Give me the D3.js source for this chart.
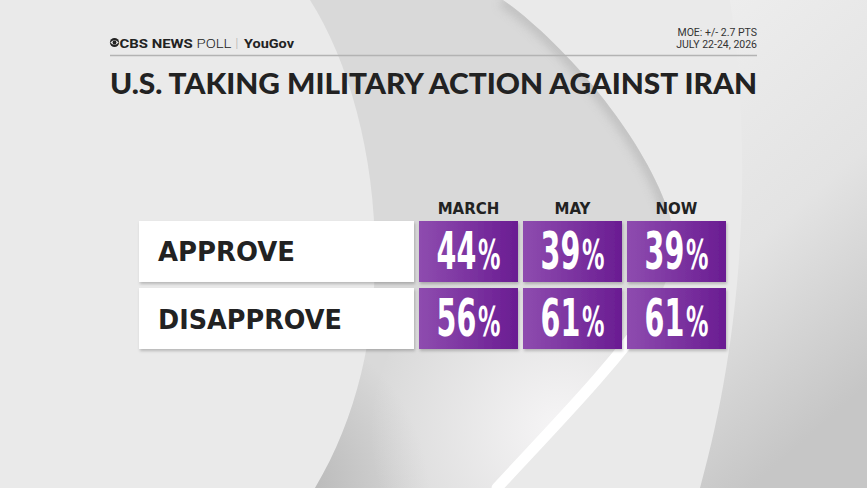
<!DOCTYPE html>
<html>
<head>
<meta charset="utf-8">
<script src="https://cdn.jsdelivr.net/npm/d3@7"></script>
<style>
  html, body { margin: 0; padding: 0; background: #e9e8e9; overflow: hidden; }
  svg { display: block; }
</style>
</head>
<body>
<svg id="chart"></svg>
<script>
// poll data
const periods = ['MARCH', 'MAY', 'NOW'];
const responses = ['APPROVE', 'DISAPPROVE'];
const approve = [44, 39, 39];
const disapprove = [56, 61, 61];
const title = 'U.S. TAKING MILITARY ACTION AGAINST IRAN';
const moe = 'MOE: +/- 2.7 PTS';
const fieldDates = 'JULY 22-24, 2026';

const W = 867, H = 488;
const svg = d3.select('#chart').attr('width', W).attr('height', H);
const defs = svg.append('defs');

// gradients + shadow
const cellGrad = defs.append('linearGradient').attr('id', 'cellGrad')
    .attr('x1', '0%').attr('x2', '100%').attr('y1', '0%').attr('y2', '0%');
cellGrad.append('stop').attr('offset', '0%').attr('stop-color', '#8e4caf');
cellGrad.append('stop').attr('offset', '100%').attr('stop-color', '#6a1c92');

const glow = defs.append('radialGradient').attr('id', 'glow')
    .attr('gradientUnits', 'userSpaceOnUse')
    .attr('cx', 560).attr('cy', 430).attr('r', 190);
glow.append('stop').attr('offset', '0%').attr('stop-color', '#f6f5f6').attr('stop-opacity', 1);
glow.append('stop').attr('offset', '100%').attr('stop-color', '#f6f5f6').attr('stop-opacity', 0);

const dark = defs.append('radialGradient').attr('id', 'dark')
    .attr('gradientUnits', 'userSpaceOnUse')
    .attr('cx', 240).attr('cy', 500).attr('r', 190);
dark.append('stop').attr('offset', '0%').attr('stop-color', '#a8a8a8').attr('stop-opacity', 1);
dark.append('stop').attr('offset', '100%').attr('stop-color', '#a8a8a8').attr('stop-opacity', 0);

const rightGrad = defs.append('linearGradient').attr('id', 'rightGrad')
    .attr('x1', '0%').attr('x2', '30%').attr('y1', '0%').attr('y2', '100%');
rightGrad.append('stop').attr('offset', '0%').attr('stop-color', '#eeeeee');
rightGrad.append('stop').attr('offset', '55%').attr('stop-color', '#e3e3e3');
rightGrad.append('stop').attr('offset', '100%').attr('stop-color', '#c6c6c6');

const shadow = defs.append('filter').attr('id', 'shadow')
    .attr('x', '-5%').attr('y', '-10%').attr('width', '115%').attr('height', '130%');
shadow.append('feDropShadow').attr('dx', 1).attr('dy', 2)
    .attr('stdDeviation', 1.5).attr('flood-color', '#000').attr('flood-opacity', 0.22);

const blur = defs.append('filter').attr('id', 'blur');
blur.append('feGaussianBlur').attr('stdDeviation', 4);

const clip = defs.append('clipPath').attr('id', 'crescentClip');
const crescentD = 'M310,0 C380,110 410,330 315,488 L493,488 C590,380 700,300 668,210 C640,130 560,40 503,0 Z';
clip.append('path').attr('d', crescentD);

// background swooshes (decoration only)
const bg = svg.append('g');
bg.append('rect').attr('width', W).attr('height', H).attr('fill', '#eaeaea');
bg.append('path')
    .attr('d', 'M730,0 C748,120 752,300 700,488 L867,488 L867,0 Z')
    .attr('fill', 'url(#rightGrad)');
bg.append('path').attr('d', crescentD).attr('fill', '#d9d9d9');
const inner = bg.append('g').attr('clip-path', 'url(#crescentClip)');
inner.append('path')
    .attr('d', 'M503,0 C560,40 640,130 668,210')
    .attr('fill', 'none').attr('stroke', '#bdbdbd').attr('stroke-width', 14)
    .attr('filter', 'url(#blur)').attr('opacity', 0.8);
inner.append('rect').attr('width', W).attr('height', H).attr('fill', 'url(#dark)');
inner.append('rect').attr('width', W).attr('height', H).attr('fill', 'url(#glow)');
bg.append('path')
    .attr('d', 'M497,488 C560,420 610,370 660,300')
    .attr('fill', 'none').attr('stroke', '#ffffff').attr('stroke-width', 11)
    .attr('stroke-linecap', 'round');

// header
const head = svg.append('g');
const eye = head.append('g').attr('transform', 'translate(114.5,42.5)');
eye.append('circle').attr('r', 4.6).attr('fill', '#222');
eye.append('path').attr('d', 'M-4.2,0 Q0,-4.6 4.2,0 Q0,4.6 -4.2,0 Z').attr('fill', '#e9e9e9');
eye.append('circle').attr('r', 1.9).attr('fill', '#222');

const logo = head.append('text').attr('x', 119.5).attr('y', 47.5)
    .attr('font-family', 'Roboto, "Noto Sans", sans-serif').attr('font-size', 13.5)
    .attr('fill', '#222')
    .attr('textLength', 112).attr('lengthAdjust', 'spacingAndGlyphs');
logo.append('tspan').attr('font-weight', 700).text('CBS NEWS ');
logo.append('tspan').attr('font-weight', 300).text('POLL');
head.append('text').attr('x', 235.5).attr('y', 47)
    .attr('font-family', 'Roboto, sans-serif').attr('font-size', 12)
    .attr('font-weight', 300).attr('fill', '#aaa').text('|');
head.append('text').attr('x', 244).attr('y', 47.5)
    .attr('font-family', 'Roboto, sans-serif').attr('font-size', 13.5)
    .attr('font-weight', 700).attr('fill', '#222')
    .attr('textLength', 50).attr('lengthAdjust', 'spacingAndGlyphs')
    .text('YouGov');

head.append('text').attr('x', 757).attr('y', 36).attr('text-anchor', 'end')
    .attr('font-family', 'Roboto, sans-serif').attr('font-size', 10.5)
    .attr('fill', '#333').text(moe);
head.append('text').attr('x', 757).attr('y', 48).attr('text-anchor', 'end')
    .attr('font-family', 'Roboto, sans-serif').attr('font-size', 10.5)
    .attr('fill', '#333').text(fieldDates);

head.append('line').attr('x1', 110).attr('x2', 757).attr('y1', 55.5).attr('y2', 55.5)
    .attr('stroke', '#b3b3b3').attr('stroke-width', 1.6);

head.append('text').attr('x', 110).attr('y', 94)
    .attr('font-family', 'Lato, "DejaVu Sans", sans-serif').attr('font-weight', 900)
    .attr('font-size', 28).attr('fill', '#222')
    .attr('textLength', 647).attr('lengthAdjust', 'spacingAndGlyphs')
    .text(title);

// table
const x = d3.scaleBand().domain(periods).range([419, 726]).paddingInner(0.048);
const y = d3.scaleBand().domain(responses).range([221, 349]).paddingInner(0.09);
const values = { APPROVE: approve, DISAPPROVE: disapprove };

const table = svg.append('g');

table.selectAll('.colhead')
    .data(periods)
    .join('text')
    .attr('class', 'colhead')
    .attr('x', d => x(d) + x.bandwidth() / 2)
    .attr('y', 214)
    .attr('text-anchor', 'middle')
    .attr('font-family', '"DejaVu Sans", sans-serif').attr('font-weight', 700)
    .attr('font-size', 15).attr('fill', '#222')
    .text(d => d);

const rows = table.selectAll('.row')
    .data(responses)
    .join('g')
    .attr('class', 'row')
    .attr('transform', d => `translate(0,${y(d)})`);

rows.append('rect')
    .attr('x', 139).attr('width', 275).attr('height', y.bandwidth())
    .attr('fill', '#ffffff').attr('filter', 'url(#shadow)');

rows.append('text')
    .attr('x', 158).attr('y', y.bandwidth() / 2 + 10)
    .attr('font-family', '"DejaVu Sans", sans-serif').attr('font-weight', 700)
    .attr('font-size', 27).attr('fill', '#222')
    .attr('textLength', d => d === 'APPROVE' ? 137 : 184)
    .attr('lengthAdjust', 'spacingAndGlyphs')
    .text(d => d);

const cells = rows.selectAll('.cell')
    .data(r => values[r].map((v, i) => ({ period: periods[i], value: v })))
    .join('g')
    .attr('class', 'cell')
    .attr('transform', d => `translate(${x(d.period)},0)`);

cells.append('rect')
    .attr('width', x.bandwidth()).attr('height', y.bandwidth())
    .attr('fill', 'url(#cellGrad)').attr('filter', 'url(#shadow)');

// condensed numerals: squeeze DejaVu bold horizontally
const num = cells.append('text')
    .attr('transform', `translate(${x.bandwidth() / 2},48) scale(0.56,1)`)
    .attr('text-anchor', 'middle')
    .attr('font-family', '"DejaVu Sans", sans-serif')
    .attr('font-weight', 700).attr('fill', '#ffffff');
num.append('tspan').attr('font-size', 51).text(d => d.value);
num.append('tspan').attr('font-size', 40).attr('dx', 3).text('%');
</script>
</body>
</html>
